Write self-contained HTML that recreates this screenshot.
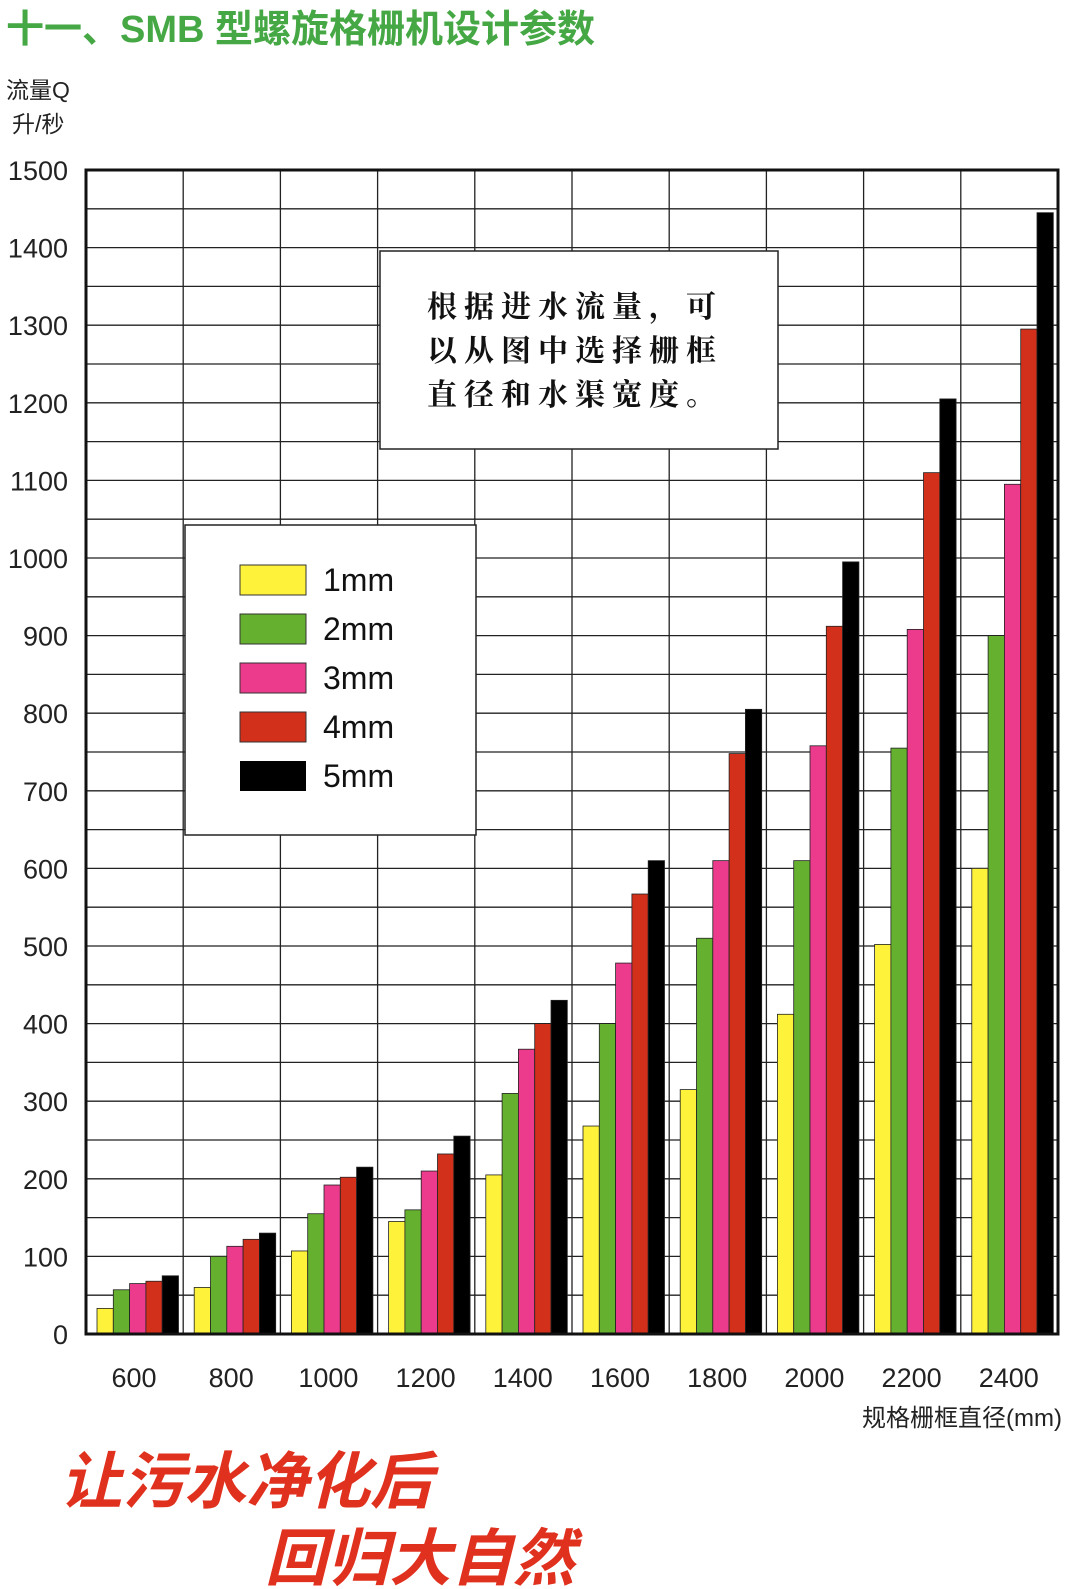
<!DOCTYPE html>
<html><head><meta charset="utf-8"><style>
body{margin:0;background:#fff;}
svg{display:block;font-family:"Liberation Sans","Noto Sans CJK SC",sans-serif;}
</style></head><body>
<svg width="1074" height="1589" viewBox="0 0 1074 1589" xmlns="http://www.w3.org/2000/svg">
<text x="6" y="42" font-size="38" fill="#45a845" font-weight="bold">十一、SMB 型螺旋格栅机设计参数</text>
<text x="6" y="98" font-size="23" fill="#222">流量Q</text>
<text x="12" y="132" font-size="23" fill="#222">升/秒</text>
<g id="grid" stroke="#222" stroke-width="1.3"></g>
<g id="bars"></g>
<rect x="86" y="170" width="972" height="1164" fill="none" stroke="#111" stroke-width="3"/>
<g id="yl" font-size="27" fill="#222" text-anchor="end"></g>
<g id="xl" font-size="27" fill="#222" text-anchor="middle"></g>
<rect x="380" y="251" width="398" height="198" fill="#fff" stroke="#222" stroke-width="1.5"/>
<g font-size="30" fill="#111" font-family="'Noto Serif CJK SC','Noto Sans CJK SC',serif" letter-spacing="7" font-weight="bold">
<text x="427" y="317">根据进水流量，可</text>
<text x="427" y="361">以从图中选择栅框</text>
<text x="427" y="405">直径和水渠宽度。</text>
</g>
<rect x="185" y="525" width="291" height="310" fill="#fff" stroke="#222" stroke-width="1.5"/>
<g font-size="32" fill="#111">
<rect x="240" y="565" width="66" height="30" fill="#fff23a" stroke="#333"/><text x="323" y="591">1mm</text>
<rect x="240" y="614" width="66" height="30" fill="#66b030" stroke="#333"/><text x="323" y="640">2mm</text>
<rect x="240" y="663" width="66" height="30" fill="#ec3b8c" stroke="#333"/><text x="323" y="689">3mm</text>
<rect x="240" y="712" width="66" height="30" fill="#d2301a" stroke="#333"/><text x="323" y="738">4mm</text>
<rect x="240" y="761" width="66" height="30" fill="#000"/><text x="323" y="787">5mm</text>
</g>
<text x="1062" y="1426" font-size="24" fill="#222" text-anchor="end">规格栅框直径(mm)</text>
<text x="60" y="1503" font-size="62" fill="#e0301e" font-weight="bold" font-style="italic">让污水净化后</text>
<text x="265" y="1580" font-size="62" fill="#e0301e" font-weight="bold" font-style="italic">回归大自然</text>
<script>
var ns="http://www.w3.org/2000/svg";
function el(p,t,a,tx){var e=document.createElementNS(ns,t);for(var k in a)e.setAttribute(k,a[k]);if(tx)e.textContent=tx;document.getElementById(p).appendChild(e);}
var L=86,T=170,B=1334,W=972,cw=97.2,s=(B-T)/1500;
for(var v=50;v<1500;v+=50){var y=B-v*s;el('grid','line',{x1:L,x2:L+W,y1:y,y2:y});}
for(var i=1;i<10;i++){var x=L+i*cw;el('grid','line',{x1:x,x2:x,y1:T,y2:B});}
for(var v=0;v<=1500;v+=100){el('yl','text',{x:68,y:B-v*s+10},String(v));}
var d=[[33,57,65,68,75],[60,100,113,122,130],[107,155,192,202,215],[145,160,210,232,255],[205,310,367,400,430],[268,400,478,567,610],[315,510,610,748,805],[412,610,758,912,995],[502,755,908,1110,1205],[600,900,1095,1295,1445]];
var c=['#fff23a','#66b030','#ec3b8c','#d2301a','#000'];
var lab=[600,800,1000,1200,1400,1600,1800,2000,2200,2400];
for(var i=0;i<10;i++){var x0=L+i*cw+11;for(var j=0;j<5;j++){var h=d[i][j]*s;el('bars','rect',{x:x0+j*16.3,y:B-h,width:16.3,height:h,fill:c[j],stroke:'#222','stroke-width':0.8});}
el('xl','text',{x:L+i*cw+48,y:1387},String(lab[i]));}
</script>
</svg>
</body></html>
